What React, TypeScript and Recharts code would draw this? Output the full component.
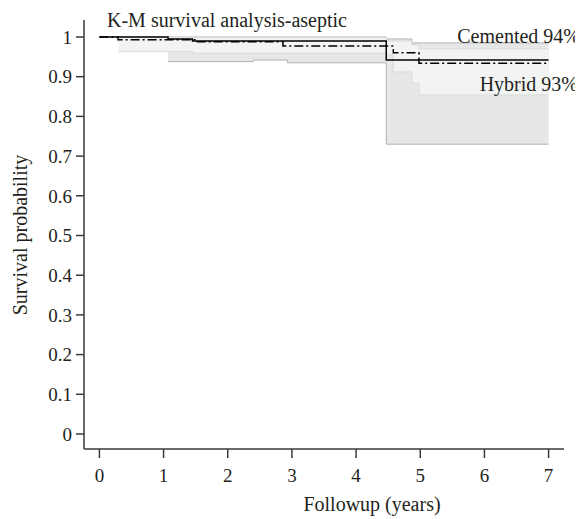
import React from 'react';
import { ComposedChart, Line, Area, XAxis, YAxis } from 'recharts';

const xTicks = [0, 1, 2, 3, 4, 5, 6, 7];
const yTicks = [0, 0.1, 0.2, 0.3, 0.4, 0.5, 0.6, 0.7, 0.8, 0.9, 1];

const cementedTimes = [0, 1.07, 1.45, 4.47, 7];
const cementedSurv = [1, 0.995, 0.99, 0.942, 0.942];

const hybridTimes = [0, 0.29, 1.5, 2.86, 4.58, 4.98, 7];
const hybridSurv = [1, 0.993, 0.988, 0.977, 0.96, 0.934, 0.934];

const cementedCiTimes = [1.07, 2.4, 2.93, 4.47, 4.87, 7];
const cementedCiLow = [0.938, 0.942, 0.935, 0.73, 0.73, 0.73];
const cementedCiHigh = [1, 1, 1, 0.995, 0.985, 0.985];

const hybridCiTimes = [0.29, 1.46, 4.47, 4.58, 4.87, 4.98, 7];
const hybridCiLow = [0.963, 0.959, 0.955, 0.912, 0.884, 0.854, 0.854];
const hybridCiHigh = [1, 0.999, 0.99, 0.99, 0.98, 0.97, 0.97];

const cementedData = cementedTimes.map((t, i) => ({ t, s: cementedSurv[i] }));
const hybridData = hybridTimes.map((t, i) => ({ t, s: hybridSurv[i] }));
const cementedCi = cementedCiTimes.map((t, i) => ({ t, r: [cementedCiLow[i], cementedCiHigh[i]] }));
const hybridCi = hybridCiTimes.map((t, i) => ({ t, r: [hybridCiLow[i], hybridCiHigh[i]] }));

const FONT = '"Liberation Serif", "DejaVu Serif", serif';
const INK = '#231f20';
const AXIS = '#3a3a3a';

export default function App() {
  return (
    <div style={{ width: 575, height: 511, position: 'relative' }}>
      <ComposedChart
        width={575}
        height={511}
        margin={{ top: 12, right: 19, left: 0, bottom: 0 }}
      >
        <XAxis
          dataKey="t"
          type="number"
          domain={[-0.24, 7.24]}
          ticks={xTicks}
          allowDataOverflow
          height={70}
          tickSize={9}
          tickMargin={11}
          axisLine={{ stroke: AXIS, strokeWidth: 1.5 }}
          tickLine={{ stroke: AXIS, strokeWidth: 1.5 }}
          tick={{ fill: INK, fontSize: 19, fontFamily: FONT }}
        />
        <YAxis
          type="number"
          domain={[-0.0378, 1.0428]}
          ticks={yTicks}
          allowDataOverflow
          width={76}
          tickSize={8}
          tickMargin={4}
          axisLine={{ stroke: AXIS, strokeWidth: 1.5 }}
          tickLine={{ stroke: AXIS, strokeWidth: 1.5 }}
          tick={{ fill: INK, fontSize: 19, fontFamily: FONT }}
        />
        <Area
          data={cementedCi}
          dataKey="r"
          type="stepAfter"
          fill="#e6e7e7"
          fillOpacity={1}
          stroke="#b3b3b3"
          strokeWidth={1}
          isAnimationActive={false}
          dot={false}
          activeDot={false}
        />
        <Area
          data={hybridCi}
          dataKey="r"
          type="stepAfter"
          fill="#f2f3f3"
          fillOpacity={1}
          stroke="#d9d9d9"
          strokeWidth={1}
          isAnimationActive={false}
          dot={false}
          activeDot={false}
        />
        <Line
          data={cementedData}
          dataKey="s"
          type="stepAfter"
          stroke="#000"
          strokeWidth={1.5}
          dot={false}
          activeDot={false}
          isAnimationActive={false}
        />
        <Line
          data={hybridData}
          dataKey="s"
          type="stepAfter"
          stroke="#000"
          strokeWidth={1.5}
          strokeDasharray="9 3 2 3"
          dot={false}
          activeDot={false}
          isAnimationActive={false}
        />
      </ComposedChart>
      <svg
        width={575}
        height={511}
        style={{ position: 'absolute', left: 0, top: 0, pointerEvents: 'none', overflow: 'visible' }}
      >
        <g fontFamily={FONT} fill={INK} fontSize={20}>
          <text x={99} y={19} textAnchor="start">K-M survival analysis-aseptic</text>
          <text x={572} y={35} textAnchor="end">Cemented 94%</text>
          <text x={570} y={83} textAnchor="end">Hybrid 93%</text>
          <text x={364} y={503} textAnchor="middle">Followup (years)</text>
          <text x={19} y={227} textAnchor="middle" transform="rotate(-90 19 227)">Survival probability</text>
        </g>
      </svg>
    </div>
  );
}
